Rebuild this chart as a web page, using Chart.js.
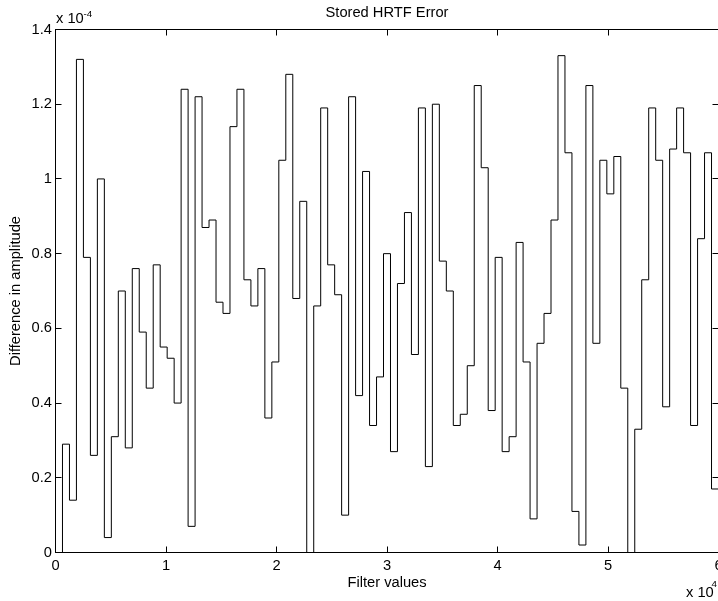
<!DOCTYPE html>
<html>
<head>
<meta charset="utf-8">
<title>Stored HRTF Error</title>
<script src="https://cdn.jsdelivr.net/npm/chart.js@4"></script>
<style>
  html, body { margin: 0; padding: 0; background: #fff; overflow: hidden; width: 718px; height: 601px; }
  #wrap { position: absolute; left: 0; top: 0; width: 740px; height: 601px; }
</style>
</head>
<body>
<div id="wrap"><canvas id="c" width="740" height="601"></canvas></div>
<script>
// ---- data (error values in units of 1e-4, one per filter step) ----
const errorValues = [
  0, 0.29, 0.14, 1.32, 0.79, 0.26, 1.00, 0.04, 0.31, 0.70,
  0.28, 0.76, 0.59, 0.44, 0.77, 0.55, 0.52, 0.40, 1.24, 0.07,
  1.22, 0.87, 0.89, 0.67, 0.64, 1.14, 1.24, 0.73, 0.66, 0.76,
  0.36, 0.51, 1.05, 1.28, 0.68, 0.94, 0, 0.66, 1.19, 0.77,
  0.69, 0.10, 1.22, 0.42, 1.02, 0.34, 0.47, 0.80, 0.27, 0.72,
  0.91, 0.53, 1.19, 0.23, 1.20, 0.78, 0.70, 0.34, 0.37, 0.50,
  1.25, 1.03, 0.38, 0.79, 0.27, 0.31, 0.83, 0.51, 0.09, 0.56,
  0.64, 0.89, 1.33, 1.07, 0.11, 0.02, 1.25, 0.56, 1.05, 0.96,
  1.06, 0.44, 0, 0.33, 0.73, 1.19, 1.05, 0.39, 1.08, 1.19,
  1.07, 0.34, 0.84, 1.07, 0.17
];
const xMin = 0;
const xMax = 60000;
const xTicks = [0, 10000, 20000, 30000, 40000, 50000, 60000];
const xTickLabels = ['0', '1', '2', '3', '4', '5', '6'];
const yTicks = [0, 0.2, 0.4, 0.6, 0.8, 1.0, 1.2, 1.4];
const yTickLabels = ['0', '0.2', '0.4', '0.6', '0.8', '1', '1.2', '1.4'];
const titleText = 'Stored HRTF Error';
const xTitle = 'Filter values';
const yTitle = 'Difference in amplitude';

// filter values are evenly spaced from xMin to xMax (one step per value)
const stepWidth = (xMax - xMin) / errorValues.length;
const points = errorValues.map((v, i) => ({ x: xMin + i * stepWidth, y: v }));
points.push({ x: xMax, y: errorValues[errorValues.length - 1] }); // close final stair

const FAMILY = "'Liberation Sans', Arial, Helvetica, sans-serif";
const FS = 14.7;
const font = { family: FAMILY, size: FS, weight: 'normal' };

const boxPlugin = {
  id: 'matlabBox',
  afterDraw(chart) {
    const { ctx, chartArea: a, scales: { x, y } } = chart;
    ctx.save();
    ctx.strokeStyle = '#000';
    ctx.lineWidth = 1;
    ctx.strokeRect(a.left, a.top, a.right - a.left, a.bottom - a.top);
    const L = 6;
    ctx.beginPath();
    x.ticks.forEach(t => {
      const px = Math.floor(x.getPixelForValue(t.value)) + 0.5;
      ctx.moveTo(px, a.bottom); ctx.lineTo(px, a.bottom - L);
      ctx.moveTo(px, a.top); ctx.lineTo(px, a.top + L);
    });
    y.ticks.forEach(t => {
      const py = Math.floor(y.getPixelForValue(t.value)) + 0.5;
      ctx.moveTo(a.left, py); ctx.lineTo(a.left + L, py);
      ctx.moveTo(a.right, py); ctx.lineTo(a.right - L, py);
    });
    ctx.stroke();
    // axis multipliers
    ctx.fillStyle = '#000';
    ctx.textAlign = 'left';
    ctx.textBaseline = 'alphabetic';
    ctx.font = FS + 'px ' + FAMILY;
    ctx.fillText('x 10', a.left + 0.5, a.top - 6.2);
    ctx.fillText('x 10', a.right - 32.5, a.bottom + 44.5);
    ctx.font = '9.8px ' + FAMILY;
    ctx.fillText('-4', a.left + 28, a.top - 12.8);
    ctx.fillText('4', a.right - 7, a.bottom + 34.5);
    ctx.restore();
  }
};

new Chart(document.getElementById('c'), {
  type: 'line',
  data: {
    datasets: [{
      data: points,
      stepped: 'before',
      borderColor: '#000',
      borderWidth: 1,
      pointRadius: 0,
      fill: false,
      tension: 0
    }]
  },
  options: {
    responsive: false,
    animation: false,
    devicePixelRatio: 1,
    layout: { padding: { left: 0, right: 21.5, top: 0, bottom: 0 } },
    plugins: {
      legend: { display: false },
      tooltip: { enabled: false },
      title: {
        display: true,
        text: titleText,
        fullSize: false,
        color: '#000',
        font: font,
        padding: { top: 4.4, bottom: 7.46 }
      }
    },
    scales: {
      x: {
        type: 'linear',
        min: xMin,
        max: xMax,
        afterBuildTicks: s => { s.ticks = xTicks.map(v => ({ value: v })); },
        ticks: {
          callback: (v, i) => xTickLabels[i],
          color: '#000',
          font: font,
          padding: 4.6,
          maxRotation: 0,
          autoSkip: false
        },
        grid: { display: false, drawTicks: false },
        border: { display: false },
        title: { display: true, text: xTitle, color: '#000', font: font, padding: { top: 0, bottom: 9 } },
        afterFit: s => { s.height = 48.5; }
      },
      y: {
        type: 'linear',
        min: 0,
        max: 1.4,
        afterBuildTicks: s => { s.ticks = yTicks.map(v => ({ value: v })); },
        ticks: {
          callback: (v, i) => yTickLabels[i],
          color: '#000',
          font: font,
          padding: 3.5,
          autoSkip: false
        },
        grid: { display: false, drawTicks: false },
        border: { display: false },
        title: { display: true, text: yTitle, color: '#000', font: font, padding: { top: 6.8, bottom: 0 } },
        afterFit: s => { s.width = 55.5; }
      }
    }
  },
  plugins: [boxPlugin]
});
</script>
</body>
</html>
